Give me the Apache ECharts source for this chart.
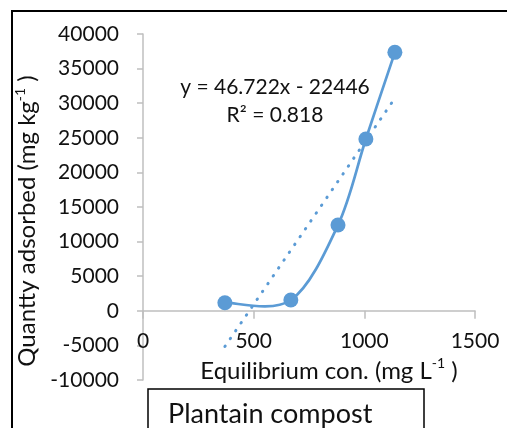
<!DOCTYPE html>
<html>
<head>
<meta charset="utf-8">
<script src="https://cdn.jsdelivr.net/npm/echarts@6/dist/echarts.min.js"></script>
<style>
  html, body { margin: 0; padding: 0; background: #fff; }
  #chart { width: 507px; height: 428px; }
</style>
</head>
<body>
<div id="chart"></div>
<script>
// Equilibrium concentration (mg L-1) and quantity adsorbed (mg kg-1)
const eqConc = [370, 668, 881, 1007, 1138];
const adsorbed = [1170, 1560, 12400, 24830, 37350];

// Linear trendline parameters
const slope = [46.722];
const intercept = [-22446];
const rSquared = [0.818];

// Axis ticks
const xTicks = [0, 500, 1000, 1500];
const yTicks = [-10000, -5000, 0, 5000, 10000, 15000, 20000, 25000, 30000, 35000, 40000];

const seriesLabel = ['Plantain compost'];

const FONT = 'Lato, "Open Sans", sans-serif';
const BLUE = '#5b9bd5';
const INK = '#111';

const points = eqConc.map((x, i) => [x, adsorbed[i]]);
const xLo = Math.min(...eqConc), xHi = Math.max(...eqConc);
const trend = [xLo, xHi].map(x => [x, slope[0] * x + intercept[0]]);

const eqText = 'y = ' + slope[0] + 'x - ' + Math.abs(intercept[0]);
const r2Text = 'R² = ' + rSquared[0];

// Smoothed connecting curve: one cubic Bezier per segment, control points
// taken from the neighbouring points (Catmull-Rom style, tension 1/6).
function renderSegment(params, api) {
  const i = params.dataIndex;
  if (i >= points.length - 1) return null;
  const P = points.map(p => api.coord(p));
  const p0 = P[Math.max(i - 1, 0)];
  const p1 = P[i];
  const p2 = P[i + 1];
  const p3 = P[Math.min(i + 2, P.length - 1)];
  const k = 1 / 6;
  return {
    type: 'bezierCurve',
    shape: {
      x1: p1[0], y1: p1[1],
      cpx1: p1[0] + (p2[0] - p0[0]) * k, cpy1: p1[1] + (p2[1] - p0[1]) * k,
      cpx2: p2[0] - (p3[0] - p1[0]) * k, cpy2: p2[1] - (p3[1] - p1[1]) * k,
      x2: p2[0], y2: p2[1]
    },
    style: { fill: 'none', stroke: BLUE, lineWidth: 2.7, lineCap: 'round' }
  };
}

const axisFont = { color: INK, fontFamily: FONT, fontSize: 21 };
const titleFont = { color: INK, fontFamily: FONT, fontSize: 24 };
const supStyle = { color: INK, fontFamily: FONT, fontSize: 14, verticalAlign: 'top', lineHeight: 28, padding: [0, 0, 10, 0] };

const chart = echarts.init(document.getElementById('chart'), null, { renderer: 'canvas' });

chart.setOption({
  animation: false,
  backgroundColor: '#fff',
  grid: { left: 143, top: 34, width: 332, height: 346, containLabel: false, outerBoundsMode: 'none' },
  xAxis: {
    type: 'value',
    min: xTicks[0],
    max: xTicks[xTicks.length - 1],
    interval: xTicks[1] - xTicks[0],
    splitLine: { show: false },
    axisLine: { show: true, onZero: true, lineStyle: { color: '#bfbfbf', width: 1.5 } },
    axisTick: { show: true, length: 8, lineStyle: { color: '#bfbfbf', width: 1.5 } },
    axisLabel: Object.assign({ margin: -49, formatter: v => String(v) }, axisFont),
    name: '{a|Equilibrium con. (mg L}{s|-1}{a| )}',
    nameLocation: 'middle',
    nameGap: -25,
    nameTextStyle: Object.assign({
      padding: [0, 0, 0, 40],
      rich: { a: Object.assign({ lineHeight: 28 }, titleFont), s: supStyle }
    }, titleFont)
  },
  yAxis: {
    type: 'value',
    min: yTicks[0],
    max: yTicks[yTicks.length - 1],
    interval: yTicks[1] - yTicks[0],
    splitLine: { show: false },
    axisLine: { show: true, lineStyle: { color: '#bfbfbf', width: 1.5 } },
    axisTick: { show: true, length: 6, lineStyle: { color: '#bfbfbf', width: 1.5 } },
    axisLabel: Object.assign({ margin: 24, formatter: v => String(v) }, axisFont),
    name: '{a|Quantty adsorbed (mg kg}{s|-1}{a| )}',
    nameLocation: 'middle',
    nameRotate: 90,
    nameGap: 98,
    nameTextStyle: Object.assign({
      padding: [0, 28, 0, 0],
      rich: { a: Object.assign({ lineHeight: 28 }, titleFont), s: supStyle }
    }, titleFont)
  },
  series: [
    {
      name: seriesLabel[0] + ' curve',
      type: 'custom',
      data: points,
      renderItem: renderSegment,
      clip: false,
      z: 3
    },
    {
      name: seriesLabel[0],
      type: 'scatter',
      data: points,
      symbol: 'circle',
      symbolSize: 15,
      itemStyle: { color: BLUE, opacity: 1 },
      z: 4
    },
    {
      name: 'Linear trend',
      type: 'line',
      data: trend,
      symbol: 'none',
      lineStyle: { color: BLUE, width: 3, type: [0.5, 9], cap: 'round' },
      z: 2
    }
  ],
  graphic: [
    {
      type: 'rect',
      shape: { x: 12, y: 11, width: 600, height: 500 },
      style: { fill: 'none', stroke: '#000', lineWidth: 2 },
      z: 0, silent: true
    },
    {
      type: 'text',
      x: 275, y: 87,
      style: { text: eqText, fontFamily: FONT, fontSize: 21, fill: INK, textAlign: 'center', textVerticalAlign: 'middle' },
      z: 10
    },
    {
      type: 'text',
      x: 275, y: 115,
      style: { text: r2Text, fontFamily: FONT, fontSize: 21, fill: INK, textAlign: 'center', textVerticalAlign: 'middle' },
      z: 10
    },
    {
      type: 'rect',
      shape: { x: 148, y: 389, width: 276, height: 80 },
      style: { fill: '#fff', stroke: '#000', lineWidth: 1.5 },
      z: 10
    },
    {
      type: 'text',
      x: 168, y: 414,
      style: { text: seriesLabel[0], fontFamily: FONT, fontSize: 27, fill: INK, textAlign: 'left', textVerticalAlign: 'middle' },
      z: 11
    }
  ]
});
</script>
</body>
</html>
